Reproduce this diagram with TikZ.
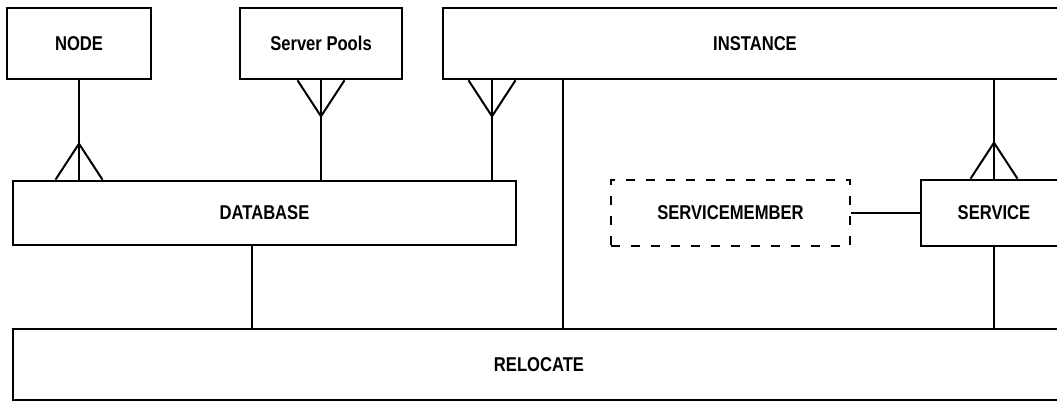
\documentclass[tikz,border=0pt]{standalone}
\usepackage{fontspec}
\newfontfamily\boxfont{Liberation Sans}[FakeStretch=0.83]
\usepackage{tikz}
\usetikzlibrary{calc}
% crow's foot: #1 point on the box edge, #2 offset of the apex
\newcommand{\crowfoot}[2]{%
  \draw ($#1+(-23.5,0)$) -- ($#1+(0,#2)$) -- ($#1+(23.5,0)$);}

\begin{document}
\begin{tikzpicture}[
  x=1pt, y=-1pt,
  box/.style={draw, line width=2.6pt, minimum height=71pt, inner sep=0pt,
    font=\boxfont\bfseries\fontsize{20}{23}\selectfont},
  dbox/.style={box, dash pattern=on 9pt off 11pt},
  line width=2pt
]
\clip (0,0) rectangle (1057,401);

% top row
\node[box, minimum width=144pt] (node) at (79,43.5) {NODE};
\node[box, minimum width=162pt] (pools) at (321,43.5) {Server Pools};
\node[box, minimum width=624pt] (inst) at (755,43.5) {INSTANCE};

% middle row
\node[box, minimum width=503pt, minimum height=64pt] (db) at (264.5,213) {DATABASE};
\node[dbox, minimum width=239pt, minimum height=66pt] (member) at (730.5,213)
  {SERVICEMEMBER};
\node[box, minimum width=146pt, minimum height=66pt] (svc) at (994,213) {SERVICE};

% bottom
\node[box, minimum width=1052pt] (reloc) at (539,364.5) {RELOCATE};

% NODE - DATABASE
\draw (node.south) -- (node.south |- db.north);
\crowfoot{(node.south |- db.north)}{-36}

% Server Pools - DATABASE
\draw (pools.south) -- (pools.south |- db.north);
\crowfoot{(pools.south)}{36}

% INSTANCE - DATABASE
\coordinate (ia) at (492,0);
\draw (ia |- inst.south) -- (ia |- db.north);
\crowfoot{(ia |- inst.south)}{36}

% INSTANCE - RELOCATE
\coordinate (ib) at (563,0);
\draw (ib |- inst.south) -- (ib |- reloc.north);

% INSTANCE - SERVICE
\draw (svc.north |- inst.south) -- (svc.north);
\crowfoot{(svc.north)}{-36}

% SERVICEMEMBER - SERVICE
\draw (member.east) -- (svc.west);

% to RELOCATE
\coordinate (dr) at (252,0);
\draw (dr |- db.south) -- (dr |- reloc.north);
\draw (svc.south) -- (svc.south |- reloc.north);
\end{tikzpicture}
\end{document}
